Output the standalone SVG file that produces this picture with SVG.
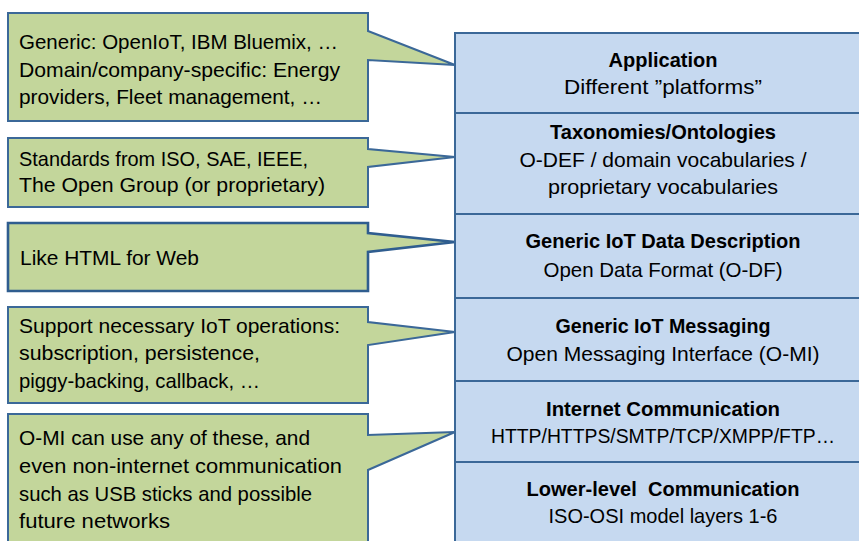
<svg xmlns="http://www.w3.org/2000/svg" width="859" height="541" viewBox="0 0 859 541">
<style>
.callout{fill:#c3d69b;stroke:#3b6898;stroke-width:2;stroke-linejoin:miter}
.layer{fill:#c6d9f0;stroke:#3b6898;stroke-width:2}
text{font-family:"Liberation Sans",Arial,sans-serif;font-size:21px;fill:#000}
.t{text-anchor:middle}
.b{font-weight:bold}
</style>
<rect width="859" height="541" fill="#ffffff"/>
<g id="connectors"></g>
<g id="callout1">
<path class="callout" d="M8,13 H368 V31 L455,65 L368,60 V121 H8 Z"/>
<text x="19" y="49" textLength="319" lengthAdjust="spacingAndGlyphs">Generic: OpenIoT, IBM Bluemix, …</text>
<text x="19" y="77" textLength="321" lengthAdjust="spacingAndGlyphs">Domain/company-specific: Energy</text>
<text x="19" y="104" textLength="303" lengthAdjust="spacingAndGlyphs">providers, Fleet management, …</text>
</g>
<g id="callout2">
<path class="callout" d="M8,138 H368 V149 L455,157 L368,167 V207 H8 Z"/>
<text x="19" y="166" textLength="289" lengthAdjust="spacingAndGlyphs">Standards from ISO, SAE, IEEE,</text>
<text x="19" y="192" textLength="306" lengthAdjust="spacingAndGlyphs">The Open Group (or proprietary)</text>
</g>
<g id="callout3">
<path class="callout" style="stroke-width:2.6;stroke:#2f5d8f" d="M8,223 H368 V233 L455,242 L368,252 V291 H8 Z"/>
<text x="20" y="265" textLength="179" lengthAdjust="spacingAndGlyphs">Like HTML for Web</text>
</g>
<g id="callout4">
<path class="callout" d="M8,307 H368 V322 L455,332 L368,345 V403 H8 Z"/>
<text x="19" y="333" textLength="321" lengthAdjust="spacingAndGlyphs">Support necessary IoT operations:</text>
<text x="19" y="360" textLength="241" lengthAdjust="spacingAndGlyphs">subscription, persistence,</text>
<text x="19" y="388" textLength="241" lengthAdjust="spacingAndGlyphs">piggy-backing, callback, …</text>
</g>
<g id="callout5">
<path class="callout" d="M8,414 H368 V435 L455,432 L368,470 V548 H8 Z"/>
<text x="19" y="445" textLength="291" lengthAdjust="spacingAndGlyphs">O-MI can use any of these, and</text>
<text x="19" y="473" textLength="323" lengthAdjust="spacingAndGlyphs">even non-internet communication</text>
<text x="19" y="501" textLength="293" lengthAdjust="spacingAndGlyphs">such as USB sticks and possible</text>
<text x="19" y="528" textLength="151" lengthAdjust="spacingAndGlyphs">future networks</text>
</g>
<g id="layer-application">
<rect class="layer" x="455" y="33" width="410" height="80"/>
<text class="t b" x="663" y="67" textLength="109" lengthAdjust="spacingAndGlyphs">Application</text>
<text class="t" x="663" y="94" textLength="198" lengthAdjust="spacingAndGlyphs">Different ”platforms”</text>
</g>
<g id="layer-taxonomies">
<rect class="layer" x="455" y="113" width="410" height="101"/>
<text class="t b" x="663" y="139" textLength="226" lengthAdjust="spacingAndGlyphs">Taxonomies/Ontologies</text>
<text class="t" x="663" y="167" textLength="287" lengthAdjust="spacingAndGlyphs">O-DEF / domain vocabularies /</text>
<text class="t" x="663" y="194" textLength="230" lengthAdjust="spacingAndGlyphs">proprietary vocabularies</text>
</g>
<g id="layer-data">
<rect class="layer" x="455" y="214" width="410" height="84"/>
<text class="t b" x="663" y="248" textLength="275" lengthAdjust="spacingAndGlyphs">Generic IoT Data Description</text>
<text class="t" x="663" y="277" textLength="239" lengthAdjust="spacingAndGlyphs">Open Data Format (O-DF)</text>
</g>
<g id="layer-messaging">
<rect class="layer" x="455" y="298" width="410" height="83"/>
<text class="t b" x="663" y="333" textLength="215" lengthAdjust="spacingAndGlyphs">Generic IoT Messaging</text>
<text class="t" x="663" y="361" textLength="313" lengthAdjust="spacingAndGlyphs">Open Messaging Interface (O-MI)</text>
</g>
<g id="layer-internet">
<rect class="layer" x="455" y="381" width="410" height="81"/>
<text class="t b" x="663" y="416" textLength="234" lengthAdjust="spacingAndGlyphs">Internet Communication</text>
<text class="t" x="663" y="443" textLength="344" lengthAdjust="spacingAndGlyphs" style="font-size:20px">HTTP/HTTPS/SMTP/TCP/XMPP/FTP…</text>
</g>
<g id="layer-lower">
<rect class="layer" x="455" y="462" width="410" height="90"/>
<text class="t b" x="663" y="496" textLength="273" lengthAdjust="spacingAndGlyphs" xml:space="preserve">Lower-level  Communication</text>
<text class="t" x="663" y="523" textLength="229" lengthAdjust="spacingAndGlyphs">ISO-OSI model layers 1-6</text>
</g>
</svg>
